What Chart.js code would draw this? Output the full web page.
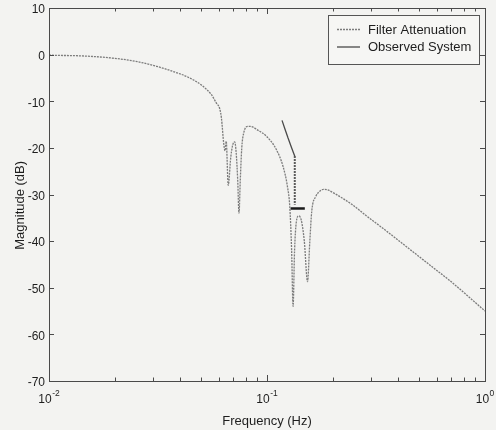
<!DOCTYPE html>
<html>
<head>
<meta charset="utf-8">
<title>Filter Attenuation vs Observed System</title>
<script src="https://cdn.jsdelivr.net/npm/chart.js@4/dist/chart.umd.min.js"></script>
<style>
  html, body { margin: 0; padding: 0; background: #f3f3f1; }
  #wrap { width: 496px; height: 430px; }
</style>
</head>
<body>
<div id="wrap"><canvas id="chart" width="496" height="430"></canvas></div>
<script>
// Filter magnitude response (frequency in Hz, magnitude in dB)
const filterFreq = [
  0.0100, 0.0102, 0.0124, 0.0159, 0.0218, 0.0260, 0.0311, 0.0370, 0.0442, 0.0509,
  0.0556, 0.0586, 0.0607, 0.0618, 0.0633, 0.0642, 0.0650, 0.0664, 0.0682, 0.0696,
  0.0711, 0.0722, 0.0734, 0.0744, 0.0754, 0.0766, 0.0782, 0.0816, 0.0842, 0.0907,
  0.0994, 0.1105, 0.1185, 0.1241, 0.1272, 0.1297, 0.1317, 0.1338, 0.1362, 0.1398,
  0.1436, 0.1483, 0.1534, 0.1572, 0.1605, 0.1675, 0.1745, 0.1816, 0.1890, 0.2047,
  0.2254, 0.2481, 0.2862, 0.3412, 0.4072, 0.4857, 0.5790, 0.6908, 0.8310, 1.0000
];
const filterDb = [
  0.0, -0.1, -0.2, -0.4, -1.0, -1.6, -2.5, -3.6, -5.0, -6.8,
  -8.6, -10.4, -11.6, -13.6, -19.0, -20.6, -18.6, -28.0, -22.0, -19.4,
  -18.7, -21.0, -27.0, -34.0, -27.0, -20.0, -16.8, -15.4, -15.4, -16.2,
  -17.5, -20.4, -24.0, -28.3, -32.6, -42.0, -54.0, -42.0, -36.0, -34.6,
  -35.5, -40.0, -48.7, -40.0, -33.5, -30.4, -29.3, -28.9, -29.0, -29.8,
  -31.0, -32.3, -34.6, -37.3, -40.1, -42.9, -45.7, -48.5, -51.7, -55.0
];

// Observed system response
const observedFreq = [0.1172, 0.1249, 0.1341];
const observedDb = [-14.1, -17.9, -21.8];

// Drop from the observed response down to the stop level
const dropFreq = [0.1341, 0.1341];
const dropDb = [-21.8, -32.2];

// Stop level bar
const levelFreq = [0.1282, 0.1491];
const levelDb = [-33.0, -33.0];

// Axis ticks
const yTickValues = [10, 0, -10, -20, -30, -40, -50, -60, -70];
const xDecades = [0.01, 0.1, 1];
const xTickBase = '10';
const xTickExp = ['-2', '-1', '0'];

const toPoints = (xs, ys) => xs.map((v, i) => ({ x: v, y: ys[i] }));

const FONT = '"Liberation Sans", Arial, Helvetica, sans-serif';
const BG = '#f3f3f1';
const AXIS = '#4a4a4a';
const TEXT = '#1e1e1e';

const chartDecor = {
  id: 'chartDecor',
  beforeDraw(chart) {
    const { ctx, width, height } = chart;
    ctx.save();
    ctx.fillStyle = BG;
    ctx.fillRect(0, 0, width, height);
    ctx.restore();
  },
  afterDraw(chart) {
    const { ctx, chartArea: { left, right, top, bottom }, scales: { x, y } } = chart;
    ctx.save();
    ctx.strokeStyle = AXIS;
    ctx.lineWidth = 1;
    // frame
    ctx.strokeRect(Math.round(left) + 0.5, Math.round(top) + 0.5,
                   Math.round(right - left), Math.round(bottom - top));
    // inward y ticks, left and right
    ctx.beginPath();
    yTickValues.forEach(v => {
      const py = Math.round(y.getPixelForValue(v)) + 0.5;
      ctx.moveTo(left, py); ctx.lineTo(left + 5, py);
      ctx.moveTo(right, py); ctx.lineTo(right - 5, py);
    });
    // inward x ticks (decades and log minor), bottom and top
    for (let d = 0; d < xDecades.length; d++) {
      const base = xDecades[d];
      const steps = d < xDecades.length - 1 ? 9 : 1;
      for (let k = 1; k <= steps; k++) {
        const px = Math.round(x.getPixelForValue(base * k)) + 0.5;
        const len = k === 1 ? 6 : 3.5;
        ctx.moveTo(px, bottom); ctx.lineTo(px, bottom - len);
        ctx.moveTo(px, top); ctx.lineTo(px, top + len);
      }
    }
    ctx.stroke();

    // y tick labels
    ctx.fillStyle = TEXT;
    ctx.font = '12px ' + FONT;
    ctx.textAlign = 'right';
    ctx.textBaseline = 'middle';
    yTickValues.forEach(v => {
      ctx.fillText(String(v), left - 4, y.getPixelForValue(v) + 2);
    });

    // x tick labels: base with raised exponent
    ctx.textAlign = 'left';
    ctx.textBaseline = 'alphabetic';
    xDecades.forEach((v, i) => {
      const px = x.getPixelForValue(v);
      ctx.font = '12px ' + FONT;
      const w1 = ctx.measureText(xTickBase).width;
      ctx.font = '8.5px ' + FONT;
      const w2 = ctx.measureText(xTickExp[i]).width;
      const start = px - (w1 + w2 + 0.5) / 2;
      ctx.font = '12px ' + FONT;
      ctx.fillText(xTickBase, start, bottom + 22);
      ctx.font = '8.5px ' + FONT;
      ctx.fillText(xTickExp[i], start + w1 + 0.5, bottom + 15);
    });

    // legend box
    const bx = 328.5, by = 15.5, bw = 151, bh = 49;
    ctx.fillStyle = '#f6f6f4';
    ctx.fillRect(bx, by, bw, bh);
    ctx.strokeStyle = '#555';
    ctx.lineWidth = 1;
    ctx.strokeRect(bx, by, bw, bh);
    const entries = chart.data.datasets.slice(0, 2);
    entries.forEach((ds, i) => {
      const ly = 29.5 + i * 17.5;
      ctx.beginPath();
      ctx.strokeStyle = ds.borderColor;
      ctx.lineWidth = ds.borderWidth;
      ctx.setLineDash(ds.borderDash || []);
      ctx.moveTo(337, ly); ctx.lineTo(360, ly);
      ctx.stroke();
      ctx.setLineDash([]);
      ctx.fillStyle = TEXT;
      ctx.font = '13px ' + FONT;
      ctx.textAlign = 'left';
      ctx.textBaseline = 'middle';
      ctx.fillText(ds.label, 368, ly + 0.5);
    });
    ctx.restore();
  }
};

new Chart(document.getElementById('chart'), {
  type: 'line',
  data: {
    datasets: [
      {
        label: 'Filter Attenuation',
        data: toPoints(filterFreq, filterDb),
        borderColor: '#7c7c7c',
        borderWidth: 1.3,
        borderDash: [2, 1],
        pointRadius: 0,
        cubicInterpolationMode: 'monotone',
        fill: false
      },
      {
        label: 'Observed System',
        data: toPoints(observedFreq, observedDb),
        borderColor: '#4a4a4a',
        borderWidth: 1.3,
        pointRadius: 0,
        tension: 0.2,
        fill: false
      },
      {
        label: 'drop',
        data: toPoints(dropFreq, dropDb),
        borderColor: '#2a2a2a',
        borderWidth: 2,
        borderDash: [1.5, 1.5],
        pointRadius: 0,
        fill: false
      },
      {
        label: 'level',
        data: toPoints(levelFreq, levelDb),
        borderColor: '#1a1a1a',
        borderWidth: 2.5,
        pointRadius: 0,
        fill: false
      }
    ]
  },
  options: {
    responsive: false,
    animation: false,
    layout: { padding: { top: 8, right: 11, bottom: 0, left: 0 } },
    plugins: {
      legend: { display: false },
      tooltip: { enabled: false }
    },
    scales: {
      x: {
        type: 'logarithmic',
        min: 0.01,
        max: 1,
        grid: { display: false, drawTicks: false },
        border: { display: false },
        afterBuildTicks(scale) {
          scale.ticks = xDecades.map(v => ({ value: v, major: true }));
        },
        afterFit(scale) { scale.height = 49; },
        ticks: { display: false },
        title: {
          display: true,
          text: 'Frequency (Hz)',
          color: TEXT,
          font: { family: FONT, size: 13 },
          padding: { top: 0, bottom: 1 }
        }
      },
      y: {
        min: -70,
        max: 10,
        grid: { display: false, drawTicks: false },
        border: { display: false },
        afterBuildTicks(scale) {
          scale.ticks = yTickValues.map(v => ({ value: v }));
        },
        afterFit(scale) { scale.width = 49; },
        ticks: { display: false },
        title: {
          display: true,
          text: 'Magnitude (dB)      ',
          color: TEXT,
          font: { family: FONT, size: 13 },
          padding: { top: 13, bottom: 0 }
        }
      }
    }
  },
  plugins: [chartDecor]
});
</script>
</body>
</html>
